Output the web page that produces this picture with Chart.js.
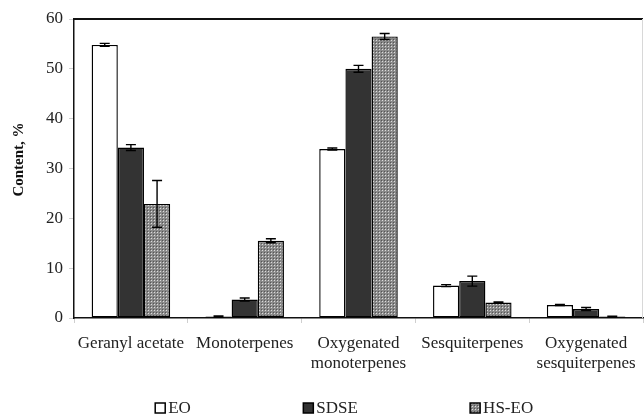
<!DOCTYPE html>
<html>
<head>
<meta charset="utf-8">
<script src="https://cdn.jsdelivr.net/npm/chart.js@4.4.1/dist/chart.umd.min.js"></script>
<style>
  html, body { margin: 0; padding: 0; background: #fff; }
  #wrap { width: 644px; height: 417px; position: relative; }
</style>
</head>
<body>
<div id="wrap"><canvas id="c" width="644" height="417"></canvas></div>
<script>
// Component classes of the essential oil
const categories = [
  'Geranyl acetate',
  'Monoterpenes',
  ['Oxygenated', 'monoterpenes'],
  'Sesquiterpenes',
  ['Oxygenated', 'sesquiterpenes']
];

// Mean content (%) per extraction method
const eoValues   = [54.8, 0.3, 33.9, 6.5, 2.6];
const sdseValues = [34.2, 3.7, 50.0, 7.4, 1.8];
const hsValues   = [22.9, 15.5, 56.5, 3.1, 0.3];

// Standard deviations
const eoErr   = [0.3, 0.1, 0.2, 0.2, 0.1];
const sdseErr = [0.6, 0.3, 0.7, 1.0, 0.3];
const hsErr   = [4.7, 0.4, 0.6, 0.1, 0.05];

const seriesNames = ['EO', 'SDSE', 'HS-EO'];
const yTicks = [0, 10, 20, 30, 40, 50, 60];
const yTitle = 'Content, %';

const SERIF = '"Liberation Serif", "Times New Roman", serif';

// Stippled grey fill for the HS-EO bars
function makeStipple() {
  const t = document.createElement('canvas');
  t.width = 3; t.height = 3;
  const g = t.getContext('2d');
  g.fillStyle = '#8a8a8a';
  g.fillRect(0, 0, 3, 3);
  g.fillStyle = '#dcdcdc';
  g.fillRect(1, 1, 1, 1);
  g.fillStyle = '#555555';
  g.fillRect(0, 0, 1, 1);
  return g.createPattern(t, 'repeat');
}
const stipple = makeStipple();

const fills = ['#ffffff', '#333333', stipple];
const errs = [eoErr, sdseErr, hsErr];

// Error bars, the frame of the plot area and the rotated axis title
const errorBarsPlugin = {
  id: 'errorBars',
  afterDatasetsDraw(chart) {
    const ctx = chart.ctx;
    const y = chart.scales.y;
    ctx.save();
    ctx.strokeStyle = '#000';
    ctx.lineWidth = 1.4;
    chart.data.datasets.forEach((ds, di) => {
      const meta = chart.getDatasetMeta(di);
      meta.data.forEach((bar, i) => {
        const v = ds.data[i];
        const e = errs[di][i];
        const top = y.getPixelForValue(v + e);
        const bot = y.getPixelForValue(Math.max(0, v - e));
        const half = 5;
        ctx.beginPath();
        ctx.moveTo(bar.x, top); ctx.lineTo(bar.x, bot);
        ctx.moveTo(bar.x - half, top); ctx.lineTo(bar.x + half, top);
        ctx.moveTo(bar.x - half, bot); ctx.lineTo(bar.x + half, bot);
        ctx.stroke();
      });
    });
    const a = chart.chartArea;
    ctx.lineWidth = 2;
    ctx.strokeStyle = '#111';
    ctx.beginPath();
    ctx.moveTo(a.left, a.top); ctx.lineTo(a.right, a.top);
    ctx.stroke();
    ctx.lineWidth = 1;
    ctx.strokeStyle = '#d8d8d8';
    ctx.beginPath();
    ctx.moveTo(a.right - 0.5, a.top); ctx.lineTo(a.right - 0.5, a.bottom);
    ctx.stroke();

    // y-axis title, sitting a little above the middle of the plot
    ctx.save();
    ctx.translate(19, a.top + (a.bottom - a.top) * 0.47);
    ctx.rotate(-Math.PI / 2);
    ctx.font = 'bold 15px ' + SERIF;
    ctx.fillStyle = '#111';
    ctx.textAlign = 'center';
    ctx.textBaseline = 'middle';
    ctx.fillText(yTitle, 0, 0);
    ctx.restore();
    ctx.restore();
  }
};

// Legend row beneath the axis labels
const bottomLegendPlugin = {
  id: 'bottomLegend',
  afterDraw(chart) {
    const ctx = chart.ctx;
    const W = chart.width;
    const cy = 408;
    const xs = [W * 0.241, W * 0.471, W * 0.730];
    ctx.save();
    ctx.font = '17px ' + SERIF;
    ctx.textBaseline = 'middle';
    chart.data.datasets.forEach((ds, i) => {
      const x = xs[i];
      ctx.fillStyle = ds.backgroundColor;
      ctx.fillRect(x, cy - 5, 10, 10);
      ctx.strokeStyle = '#000';
      ctx.lineWidth = 1.5;
      ctx.strokeRect(x, cy - 5, 10, 10);
      ctx.fillStyle = '#222';
      ctx.fillText(ds.label, x + 13, cy + 1);
    });
    ctx.restore();
  }
};

new Chart(document.getElementById('c'), {
  type: 'bar',
  data: {
    labels: categories,
    datasets: [eoValues, sdseValues, hsValues].map((vals, i) => ({
      label: seriesNames[i],
      data: vals,
      backgroundColor: fills[i],
      borderColor: '#000',
      borderWidth: 1.4,
      borderSkipped: false,
      categoryPercentage: 0.69,
      barPercentage: 1.0
    }))
  },
  options: {
    responsive: false,
    animation: false,
    devicePixelRatio: 1,
    layout: { padding: { top: 19, right: 1, left: 0, bottom: 39 } },
    plugins: {
      legend: { display: false },
      tooltip: { enabled: false }
    },
    scales: {
      x: {
        grid: {
          offset: true,
          drawOnChartArea: false,
          tickLength: 5,
          color: '#cfcfcf'
        },
        border: { color: '#111', width: 1.5 },
        ticks: {
          color: '#222',
          font: { family: SERIF, size: 17, lineHeight: 1.15 },
          padding: 11,
          maxRotation: 0,
          autoSkip: false
        },
        afterFit(scale) {
          scale.height = 60;
          scale.paddingLeft = 0;
          scale.paddingRight = 0;
        }
      },
      y: {
        min: 0,
        max: 60,
        afterBuildTicks(scale) { scale.ticks = yTicks.map(v => ({ value: v })); },
        grid: {
          drawOnChartArea: false,
          tickLength: 5,
          color: '#d0d0d0'
        },
        border: { color: '#111', width: 1.5 },
        ticks: {
          color: '#222',
          font: { family: SERIF, size: 17 },
          padding: 6
        },
        afterFit(scale) { scale.width = 74; }
      }
    }
  },
  plugins: [errorBarsPlugin, bottomLegendPlugin]
});
</script>
</body>
</html>
